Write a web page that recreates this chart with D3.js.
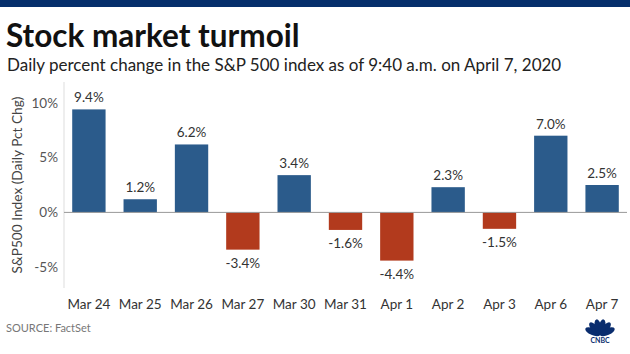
<!DOCTYPE html>
<html>
<head>
<meta charset="utf-8">
<script src="https://cdn.jsdelivr.net/npm/d3@7"></script>
<style>
  body { margin: 0; background: #fff; }
  svg { display: block; font-family: Lato, "Open Sans", sans-serif; }
</style>
</head>
<body>
<div id="chart"></div>
<script>
const days = ["Mar 24", "Mar 25", "Mar 26", "Mar 27", "Mar 30", "Mar 31", "Apr 1", "Apr 2", "Apr 3", "Apr 6", "Apr 7"]
const pctChange = [9.4, 1.2, 6.2, -3.4, 3.4, -1.6, -4.4, 2.3, -1.5, 7.0, 2.5]
const yTicks = [-5, 0, 5, 10]

const width = 630
const height = 354

const svg = d3.select("#chart")
  .append("svg")
  .attr("width", width)
  .attr("height", height)

// top navy strip
svg.append("rect")
  .attr("x", 0).attr("y", 0)
  .attr("width", width).attr("height", 7)
  .attr("fill", "#062f6b")

svg.append("text")
  .attr("x", 6).attr("y", 47)
  .attr("font-size", 31.5)
  .attr("font-weight", 700)
  .attr("fill", "#111")
  .text("Stock market turmoil")

svg.append("text")
  .attr("x", 7).attr("y", 71)
  .attr("font-size", 17)
  .attr("fill", "#222")
  .text("Daily percent change in the S&P 500 index as of 9:40 a.m. on April 7, 2020")

const plot = { left: 64, right: 627, top: 82, bottom: 288 }

const x = d3.scaleBand()
  .domain(days)
  .range([plot.left, plot.right])
  .paddingInner(0.35)
  .paddingOuter(0.16)

const y = d3.scaleLinear()
  .domain([-6.9, 11.9])
  .range([plot.bottom, plot.top])

// left axis line
svg.append("line")
  .attr("x1", plot.left).attr("x2", plot.left)
  .attr("y1", plot.top).attr("y2", plot.bottom)
  .attr("stroke", "#ddd")

// y tick labels
const yAxis = d3.axisLeft(y)
  .tickValues(yTicks)
  .tickSize(0)
  .tickPadding(6)
  .tickFormat(d => d + "%")

svg.append("g")
  .attr("transform", `translate(${plot.left},0)`)
  .call(yAxis)
  .call(g => g.select(".domain").remove())
  .call(g => g.selectAll("text")
    .attr("font-size", 13.5)
    .attr("font-family", "Lato, sans-serif")
    .attr("fill", "#555"))

svg.append("text")
  .attr("transform", `translate(22,${(plot.top + plot.bottom) / 2}) rotate(-90)`)
  .attr("text-anchor", "middle")
  .attr("font-size", 13.7)
  .attr("fill", "#444")
  .text("S&P500 Index (Daily Pct Chg)")

// bars
svg.append("g")
  .selectAll("rect")
  .data(days)
  .join("rect")
  .attr("x", d => x(d))
  .attr("width", x.bandwidth())
  .attr("y", (d, i) => y(Math.max(0, pctChange[i])))
  .attr("height", (d, i) => Math.abs(y(pctChange[i]) - y(0)))
  .attr("fill", (d, i) => pctChange[i] >= 0 ? "#2b5b8b" : "#b23a1d")

// zero line
svg.append("line")
  .attr("x1", plot.left).attr("x2", plot.right)
  .attr("y1", y(0)).attr("y2", y(0))
  .attr("stroke", "#999")

// value labels
svg.append("g")
  .selectAll("text")
  .data(days)
  .join("text")
  .attr("x", d => x(d) + x.bandwidth() / 2)
  .attr("y", (d, i) => pctChange[i] >= 0 ? y(pctChange[i]) - 7 : y(pctChange[i]) + 18)
  .attr("text-anchor", "middle")
  .attr("font-size", 13.5)
  .attr("fill", "#333")
  .text((d, i) => pctChange[i].toFixed(1) + "%")

// x labels
const xAxis = d3.axisBottom(x).tickSize(0).tickPadding(0)
svg.append("g")
  .attr("transform", `translate(0,${plot.bottom + 21})`)
  .call(xAxis)
  .call(g => g.select(".domain").remove())
  .call(g => g.selectAll("text")
    .attr("dy", 0)
    .attr("font-size", 13.5)
    .attr("font-family", "Lato, sans-serif")
    .attr("fill", "#333"))

svg.append("text")
  .attr("x", 6).attr("y", 332)
  .attr("font-size", 11)
  .attr("fill", "#777")
  .text("SOURCE: FactSet")

// CNBC peacock
const logo = svg.append("g").attr("transform", "translate(600,335)")
const feathers = [-66, -40, -13, 13, 40, 66]
logo.selectAll("ellipse")
  .data(feathers)
  .join("ellipse")
  .attr("cx", 0).attr("cy", -8)
  .attr("rx", 3.4).attr("ry", 8)
  .attr("transform", d => `rotate(${d},0,0)`)
  .attr("fill", "#0a2d6e")
logo.append("text")
  .attr("x", 0).attr("y", 8)
  .attr("text-anchor", "middle")
  .attr("font-size", 7)
  .attr("font-weight", 700)
  .attr("fill", "#0a2d6e")
  .text("CNBC")
</script>
</body>
</html>
